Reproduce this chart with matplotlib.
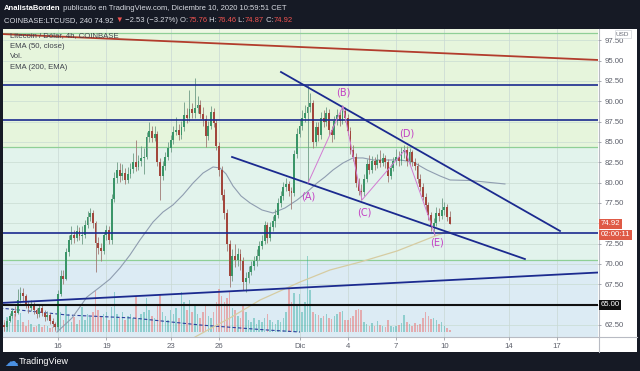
import numpy as np
import pandas as pd
import matplotlib
matplotlib.use('Agg')
import matplotlib.pyplot as plt
import matplotlib.dates as mdates
import matplotlib.transforms as mtransforms
from matplotlib.patches import Rectangle
from matplotlib.lines import Line2D
from datetime import datetime

plt.rcParams['font.family'] = ['Liberation Sans', 'DejaVu Sans']

# ---------------- data ----------------
start = '2020-11-12 12:00'
first_open = 63.0
closes = [62.5, 62.2, 63.0, 63.6, 64.2, 64.0, 65.6, 66.4, 66.0, 65.0,
          64.6, 65.0, 64.3, 63.8, 64.6, 64.0, 63.5, 63.7, 63.0, 62.6,
          62.3, 66.3, 68.5, 68.2, 71.5, 73.0, 73.6, 73.2, 74.0, 73.4,
          73.6, 74.8, 75.8, 76.2, 75.0, 72.6, 72.0, 71.6, 73.5, 74.2,
          73.0, 78.0, 80.6, 81.6, 80.8, 81.2, 80.3, 81.0, 81.7, 82.5,
          81.9, 82.6, 83.0, 83.2, 85.6, 86.4, 85.5, 86.0, 82.5, 80.8,
          82.0, 83.2, 84.3, 85.2, 86.2, 86.5, 85.8, 86.8, 88.3, 88.0,
          89.0, 88.6, 89.2, 89.5, 88.4, 87.8, 85.7, 87.0, 88.7, 87.3,
          84.5, 81.5, 78.5, 76.3, 72.5, 68.5, 71.0, 70.5, 71.2, 70.3,
          67.8, 68.3, 69.0, 69.8, 70.3, 71.0, 72.2, 72.8, 74.8, 73.2,
          74.5, 75.3, 76.0, 77.5, 78.3, 79.5, 79.8, 79.0, 78.7, 83.5,
          86.0, 87.0, 88.0, 88.5, 89.3, 89.8, 85.0, 86.8, 85.8, 88.0,
          87.5, 88.6, 86.5, 85.8, 87.6, 88.3, 87.6, 88.8, 88.0, 86.3,
          84.0, 83.2, 80.0, 79.0, 78.8, 80.5, 82.3, 81.6, 82.7, 82.2,
          82.8, 82.4, 83.0, 82.5, 80.8, 81.8, 82.6, 83.2, 82.6, 83.8,
          84.0, 82.6, 83.8, 82.5, 82.0, 80.5, 79.5, 78.2, 77.2, 76.0,
          74.6, 75.0, 76.3, 75.9, 76.6, 77.0, 75.76, 74.92]
highs = [63.4, 62.9, 63.3, 64.0, 64.6, 64.8, 66.9, 67.1, 67.0, 66.3,
         65.4, 65.5, 65.3, 64.6, 65.0, 64.9, 64.3, 64.2, 64.0, 63.3,
         62.9, 66.8, 69.2, 69.3, 71.9, 73.6, 74.6, 74.2, 74.8, 74.5,
         74.6, 75.4, 76.5, 76.9, 76.6, 75.3, 73.3, 72.6, 73.9, 74.8,
         74.6, 78.6, 81.3, 82.5, 82.4, 82.3, 81.8, 81.9, 82.4, 83.6,
         85.2, 83.4, 84.5, 84.2, 86.2, 87.4, 87.0, 86.9, 86.4, 83.0,
         82.6, 83.8, 85.0, 85.9, 86.9, 88.1, 87.2, 87.6, 89.9, 89.2,
         91.4, 89.8, 92.9, 90.6, 90.2, 89.3, 88.3, 87.6, 89.4, 89.2,
         87.8, 85.0, 82.0, 79.2, 76.8, 73.0, 71.8, 72.4, 72.0, 71.8,
         70.8, 69.0, 69.8, 70.4, 71.0, 71.8, 72.8, 73.6, 75.3, 75.2,
         75.1, 75.9, 76.8, 78.1, 79.0, 80.1, 80.6, 80.2, 79.5, 84.0,
         86.7, 87.8, 88.9, 89.6, 92.0, 91.0, 90.2, 87.4, 87.5, 88.7,
         88.9, 89.3, 89.0, 87.0, 88.2, 89.0, 88.9, 89.5, 89.3, 88.4,
         86.8, 84.6, 83.6, 80.6, 79.8, 81.0, 82.9, 83.4, 83.3, 83.2,
         83.5, 84.0, 83.6, 83.4, 82.9, 82.3, 83.1, 84.1, 83.9, 84.4,
         84.6, 84.5, 84.3, 84.0, 83.0, 82.4, 81.0, 80.0, 78.7, 77.6,
         76.4, 75.6, 77.0, 76.9, 78.1, 77.6, 77.4, 76.46]
lows = [61.9, 61.7, 61.9, 62.8, 63.3, 63.6, 63.8, 65.2, 65.4, 64.6,
        64.0, 64.2, 63.9, 63.3, 63.5, 63.6, 63.0, 63.1, 62.6, 62.2,
        61.9, 62.0, 66.0, 67.5, 68.0, 71.0, 72.5, 72.6, 72.8, 72.9,
        72.4, 73.2, 74.4, 75.3, 74.4, 69.0, 71.2, 70.3, 71.2, 73.0,
        72.4, 72.5, 77.6, 80.0, 80.1, 80.3, 79.8, 80.0, 80.6, 81.2,
        81.4, 81.5, 82.0, 81.0, 82.9, 85.0, 85.0, 85.1, 82.0, 77.9,
        80.3, 81.6, 82.8, 83.8, 84.8, 85.8, 85.2, 85.4, 86.4, 87.3,
        87.6, 87.9, 88.0, 88.6, 87.9, 87.0, 84.4, 85.2, 86.6, 86.8,
        84.0, 80.8, 77.8, 75.5, 71.6, 67.2, 67.9, 69.6, 69.8, 69.3,
        66.8, 66.5, 67.7, 68.6, 69.2, 69.8, 70.5, 71.8, 72.4, 72.6,
        72.8, 74.0, 74.5, 75.6, 77.0, 77.9, 79.0, 78.4, 76.8, 78.4,
        83.0, 85.6, 86.5, 87.4, 80.0, 88.7, 84.2, 84.5, 85.1, 85.4,
        86.8, 87.0, 85.8, 85.0, 85.4, 87.1, 87.0, 87.2, 87.4, 85.8,
        83.5, 82.6, 79.4, 78.5, 77.9, 78.4, 80.1, 81.0, 81.2, 81.6,
        81.8, 81.9, 82.0, 81.8, 80.1, 80.4, 81.4, 82.2, 82.0, 82.2,
        83.0, 82.0, 82.2, 82.0, 81.5, 80.0, 79.0, 77.8, 76.6, 75.4,
        74.0, 73.6, 74.6, 75.3, 75.5, 76.0, 75.3, 74.87]
volumes = [8, 12, 15, 10, 14, 18, 12, 19, 10, 6,
           12, 8, 5, 6, 8, 5, 7, 6, 4, 5,
           7, 22, 20, 12, 28, 18, 10, 15, 8, 12,
           25, 12, 18, 15, 20, 41, 22, 16, 18, 20,
           12, 25, 40, 18, 14, 20, 12, 16, 18, 14,
           36, 14, 18, 20, 34, 22, 16, 14, 26, 38,
           20, 16, 12, 22, 18, 24, 14, 40, 30, 22,
           32, 20, 28, 18, 14, 20, 26, 16, 14, 20,
           30, 43, 36, 30, 34, 41, 24, 22, 16, 14,
           26, 20, 12, 10, 14, 8, 12, 10, 14, 18,
           12, 10, 8, 12, 10, 14, 20, 44, 30, 39,
           28, 38, 20, 30, 76, 42, 20, 18, 17, 14,
           16, 18, 14, 13, 16, 18, 20, 21, 12, 12,
           14, 16, 22, 23, 22, 10, 8, 6, 9, 6,
           11, 7, 6, 5, 12, 6, 5, 6, 7, 9,
           17, 10, 8, 6, 9, 7, 8, 14, 20, 16,
           13, 14, 12, 8, 10, 6, 4, 2]

# indicator read-offs (day of November, value)
ema50_day = [15.94, 16.87, 17.80, 18.61, 19.23, 19.85, 20.47, 21.09, 21.90, 22.52,
             23.14, 23.76, 24.39, 25.01, 25.63, 26.06, 26.44, 26.87, 27.37, 27.93,
             28.67, 29.35, 30.10, 30.85, 31.47, 32.09, 32.58, 33.08, 33.70, 34.32,
             34.94, 35.57, 36.62, 37.24, 38.05, 38.92, 39.73, 40.35, 41.59, 43.76]
ema50_val = [61.62, 63.35, 65.93, 67.16, 68.14, 69.50, 71.10, 72.94, 75.15, 76.38,
             77.25, 78.48, 79.95, 81.18, 81.92, 81.80, 81.06, 79.58, 78.35, 77.49,
             76.63, 76.26, 76.88, 77.86, 78.84, 79.95, 80.69, 81.55, 82.41, 83.03,
             83.03, 82.78, 82.78, 82.78, 82.53, 81.55, 80.81, 80.32, 80.26, 79.83]
ema200_day = [24.51, 26.68, 28.55, 31.03, 32.89, 34.76, 37.06, 39.42, 40.35]
ema200_val = [61.01, 63.35, 65.56, 67.77, 69.25, 70.23, 71.59, 73.43, 74.05]
volma_day = [12.40, 16.56, 20.66, 24.82, 28.98, 31.03]
volma_val = [24, 17, 14, 7, 2, 0]

# drawings
blue_levels = [92.0, 87.7, 73.75]
black_level = 65.0
zone_edges = [98.4, 84.38, 70.48]
red_line_day, red_line_val = [12.40, 49.54], [98.28, 95.08]
rise_line_day, rise_line_val = [12.40, 49.54], [65.19, 68.94]
wedge_up_day, wedge_up_val = [29.85, 47.18], [93.60, 74.05]
wedge_lo_day, wedge_lo_val = [26.81, 45.00], [83.15, 70.60]
wave_labels = ['(A)', '(B)', '(C)', '(D)', '(E)']
wave_day = [31.53, 33.70, 34.88, 37.55, 39.42]
wave_val = [79.95, 89.42, 77.86, 84.02, 73.55]
wave_lab_day = [31.53, 33.70, 35.01, 37.68, 39.54]
wave_lab_val = [78.23, 91.02, 76.26, 85.98, 72.69]

price_ticks = [62.5, 65.0, 67.5, 70.0, 72.5, 75.0, 77.5, 80.0, 82.5, 85.0,
               87.5, 90.0, 92.5, 95.0, 97.5]
hidden_ticks = [65.0, 75.0]          # covered by the price badges in the original
date_tick_days = [16, 19, 23, 26, 31, 34, 37, 40, 44, 47]
date_tick_labels = ['16', '19', '23', '26', 'Dic', '4', '7', '10', '14', '17']

last_price = 74.92
countdown = '02:00:11'

# ---------------- helpers ----------------
BASE = mdates.date2num(datetime(2020, 11, 1))
def nov(d):
    return BASE + np.asarray(d, dtype=float) - 1

W, H = 640, 371
def fx(px):
    return px / W
def fy(py):
    return 1 - py / H

times = mdates.date2num(pd.date_range(start, periods=len(closes), freq='4h').to_pydatetime())
opens = [first_open] + closes[:-1]
o = np.array(opens); c = np.array(closes)
up = c >= o

fig = plt.figure(figsize=(6.4, 3.71), dpi=100, facecolor='#161a25')
fig.patches.append(Rectangle((fx(3), fy(352)), fx(637) - fx(3), fy(28.5) - fy(352),
                             transform=fig.transFigure, facecolor='white',
                             edgecolor='none', zorder=0))

rect = [fx(3), fy(337), fx(598) - fx(3), fy(28.5) - fy(337)]
axb = fig.add_axes(rect, zorder=1)
axv = fig.add_axes(rect, zorder=2)
ax = fig.add_axes(rect, zorder=3)

XL = (nov(12.584), nov(49.54))
YL = (61.01, 98.95)
for a in (axb, axv, ax):
    a.set_xlim(*XL)
axb.set_ylim(*YL)
ax.set_ylim(*YL)
axv.set_ylim(-5, 303.5)

# background zones
axb.axhspan(zone_edges[0], YL[1], color='#edf7e3', lw=0)
axb.axhspan(zone_edges[1], zone_edges[0], color='#e6f5dc', lw=0)
axb.axhspan(zone_edges[2], zone_edges[1], color='#e2f3ec', lw=0)
axb.axhspan(YL[0], zone_edges[2], color='#dcebf4', lw=0)
for p in price_ticks:
    axb.axhline(p, color='#c9dcd2', lw=0.5)
for d in date_tick_days:
    axb.axvline(nov(d), color='#c9d8d4', lw=0.5)
for e in zone_edges:
    axb.axhline(e, color='#8fcf96', lw=0.9)
axb.axis('off')

# volume
axv.bar(times, volumes, width=0.095, color=np.where(up, '#26a69a', '#ef5350'),
        alpha=0.42, lw=0)
axv.plot(nov(volma_day), volma_val, color='#2b3f9c', lw=0.8, ls=(0, (3, 2)))
axv.axis('off')
axv.patch.set_visible(False)

# price
ax.patch.set_visible(False)
ax.plot(nov(ema200_day), ema200_val, color='#d6cca2', lw=0.9, zorder=2)
ax.plot(nov(ema50_day), ema50_val, color='#8f9db0', lw=0.8, zorder=2)
wick_col = np.where(up, '#6f9c86', '#a07a74')
ax.vlines(times, lows, highs, colors=wick_col, lw=0.6, zorder=3)
body_h = np.where(np.abs(c - o) < 0.08, 0.08, c - o)
ax.bar(times, body_h, bottom=o, width=0.115,
       color=np.where(up, '#3a9568', '#a2463c'), lw=0, zorder=4)

navy = '#1b2a8f'
for lv in blue_levels:
    ax.axhline(lv, color=navy, lw=1.2, zorder=5)
ax.axhline(black_level, color='#111111', lw=1.5, zorder=5)
ax.plot(nov(red_line_day), red_line_val, color='#b23c2c', lw=1.3, zorder=5)
ax.plot(nov(rise_line_day), rise_line_val, color=navy, lw=1.3, zorder=5)
ax.plot(nov(wedge_up_day), wedge_up_val, color=navy, lw=1.3, zorder=5)
ax.plot(nov(wedge_lo_day), wedge_lo_val, color=navy, lw=1.3, zorder=5)

ax.plot(nov(wave_day), wave_val, color='#d27ad2', lw=0.7, zorder=5)
for lab, d, v in zip(wave_labels, wave_lab_day, wave_lab_val):
    ax.text(nov(d), v, lab, color='#c23fc4', fontsize=7, ha='center', va='center',
            family=['DejaVu Sans'], zorder=6)

# axes styling
for s in ax.spines.values():
    s.set_visible(False)
ax.yaxis.tick_right()
ax.set_yticks(price_ticks, ['' if p in hidden_ticks else f'{p:.2f}' for p in price_ticks])
ax.tick_params(axis='y', length=2.5, width=0.6, color='#9a9da6', labelsize=5.6,
               labelcolor='#5d606b', pad=2)
ax.set_xticks(nov(date_tick_days), date_tick_labels)
ax.tick_params(axis='x', length=2, width=0.6, color='#9a9da6', labelsize=5.6,
               labelcolor='#5d606b', pad=2.5)

fig.add_artist(Line2D([fx(598.5), fx(598.5)], [fy(28.5), fy(352)], color='#b8bbc3', lw=0.8))
fig.add_artist(Line2D([fx(3), fx(637)], [fy(337), fy(337)], color='#b8bbc3', lw=0.8))

# price labels on axis
bt = mtransforms.blended_transform_factory(ax.transAxes, ax.transData)
xa = 1 + 2.5 / 595
ax.text(xa, last_price, f'{last_price:.2f}', transform=bt, color='white', fontsize=5.6,
        ha='left', va='center', zorder=10, clip_on=False,
        bbox=dict(boxstyle='square,pad=0.2', fc='#df5a46', ec='none'))
ax.text(xa, 73.6, countdown, transform=bt, color='white', fontsize=5.6,
        ha='left', va='center', zorder=10, clip_on=False,
        bbox=dict(boxstyle='square,pad=0.2', fc='#df5a46', ec='none'))
ax.text(xa, black_level, f'{black_level:.2f}', transform=bt, color='white', fontsize=5.6,
        ha='left', va='center', zorder=10, clip_on=False,
        bbox=dict(boxstyle='square,pad=0.2', fc='#111111', ec='none'))
fig.text(fx(616), fy(34), 'USD', color='#6a6d78', fontsize=4.6, ha='left', va='center',
         bbox=dict(boxstyle='square,pad=0.2', fc='white', ec='#cfd2d8', lw=0.5))

# legend lines in chart
leg = ['Litecoin / Dólar, 4h, COINBASE', 'EMA (50, close)', 'Vol.', 'EMA (200, EMA)']
for k, t in enumerate(leg):
    fig.text(fx(10), fy(36 + k * 10.4), t, color='#3f424c', fontsize=5.6,
             ha='left', va='center', zorder=5)

# header
renderer = fig.canvas.get_renderer()
def chain(x_px, y_px, parts, size):
    x = fx(x_px)
    for s, col, wt in parts:
        t = fig.text(x, fy(y_px), s, color=col, fontsize=size, fontweight=wt,
                     ha='left', va='center')
        bb = t.get_window_extent(renderer)
        x = fig.transFigure.inverted().transform((bb.x1, bb.y0))[0]

hc = '#d8dbe2'
red = '#ef5350'
chain(4, 8.5, [('AnalistaBorden', 'white', 'bold'),
               (' publicado en TradingView.com, Diciembre 10, 2020 10:59:51 CET', hc, 'normal')], 5.5)
chain(4, 20.5, [('COINBASE:LTCUSD, 240 74.92 ', hc, 'normal'), ('▼', red, 'normal'),
                (' −2.53 (−3.27%) O:', hc, 'normal'), ('75.76', red, 'normal'),
                (' H:', hc, 'normal'), ('76.46', red, 'normal'),
                (' L:', hc, 'normal'), ('74.87', red, 'normal'),
                (' C:', hc, 'normal'), ('74.92', red, 'normal')], 5.5)

# footer
fig.text(fx(4), fy(362), '☁', color='#4a90e2', fontsize=10, family=['DejaVu Sans'],
         ha='left', va='center')
fig.text(fx(19), fy(362), 'TradingView', color='white', fontsize=6.5, ha='left', va='center')

fig.savefig('out.png', dpi=100, facecolor=fig.get_facecolor())
